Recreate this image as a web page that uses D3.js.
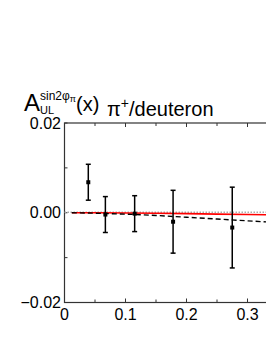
<!DOCTYPE html>
<html>
<head>
<meta charset="utf-8">
<script src="https://cdn.jsdelivr.net/npm/d3@7"></script>
<style>
body { margin: 0; background: #fff; }
text { font-family: "Liberation Sans", Arial, sans-serif; }
</style>
</head>
<body>
<svg width="266" height="344"></svg>
<script>
// data points (x, asymmetry, error)
const xs = [0.039, 0.067, 0.115, 0.178, 0.275]
const ys = [0.0068, -0.0004, -0.0002, -0.002, -0.0033]
const errs = [0.004, 0.004, 0.004, 0.007, 0.009]

// model curves
const curveX = [0.012, 0.05, 0.1, 0.15, 0.2, 0.25, 0.3, 0.35]
const redY = [0, 0, -0.00005, -0.0001, -0.0002, -0.0003, -0.0004, -0.0005]
const dashY = [0, -0.0001, -0.0003, -0.0006, -0.001, -0.0014, -0.0018, -0.0022]

const xTicks = [0, 0.1, 0.2, 0.3]
const yTicks = [-0.02, 0, 0.02]

const svg = d3.select('svg')

const x = d3.scaleLinear()
    .domain([0, 0.35])
    .range([64.5, 278])
const y = d3.scaleLinear()
    .domain([-0.02, 0.02])
    .range([302.5, 123])

// inner ticks
const xMinor = d3.range(0, 0.36, 0.05)
const yMinor = d3.range(-0.02, 0.021, 0.01)
const g = svg.append('g')
    .attr('stroke', '#333')
    .attr('stroke-width', 1)
xMinor.forEach((v, i) => {
    const len = i % 2 === 0 ? 4 : 3
    g.append('line').attr('x1', x(v)).attr('x2', x(v)).attr('y1', y(-0.02)).attr('y2', y(-0.02) - len)
    g.append('line').attr('x1', x(v)).attr('x2', x(v)).attr('y1', y(0.02)).attr('y2', y(0.02) + len)
})
yMinor.forEach(v => {
    g.append('line').attr('x1', x(0)).attr('x2', x(0) + 3).attr('y1', y(v)).attr('y2', y(v))
})

// frame
svg.append('rect')
    .attr('x', x(0))
    .attr('y', y(0.02))
    .attr('width', x(0.35) - x(0))
    .attr('height', y(-0.02) - y(0.02))
    .attr('fill', 'none')
    .attr('stroke', '#333')
    .attr('stroke-width', 1.2)

// zero dotted line
svg.append('line')
    .attr('x1', x(0))
    .attr('x2', x(0.35))
    .attr('y1', y(0) - 0.5)
    .attr('y2', y(0) - 0.5)
    .attr('stroke', '#aaa')
    .attr('stroke-width', 1.5)
    .attr('stroke-dasharray', '1.5,1.5')

const line = d3.line().x(d => x(d[0])).y(d => y(d[1]))

svg.append('path')
    .datum(d3.zip(curveX, redY))
    .attr('d', line)
    .attr('fill', 'none')
    .attr('stroke', '#ff0000')
    .attr('stroke-width', 1.6)

svg.append('path')
    .datum(d3.zip(curveX, dashY))
    .attr('d', line)
    .attr('fill', 'none')
    .attr('stroke', '#000')
    .attr('stroke-width', 1.4)
    .attr('stroke-dasharray', '5,3')

// error bars
const pts = svg.selectAll('g.pt')
    .data(d3.zip(xs, ys, errs))
    .join('g')
    .attr('stroke', '#000')
    .attr('stroke-width', 1.5)
pts.append('line')
    .attr('x1', d => x(d[0])).attr('x2', d => x(d[0]))
    .attr('y1', d => y(d[1] - d[2])).attr('y2', d => y(d[1] + d[2]))
pts.append('line')
    .attr('x1', d => x(d[0]) - 2.5).attr('x2', d => x(d[0]) + 2.5)
    .attr('y1', d => y(d[1] + d[2])).attr('y2', d => y(d[1] + d[2]))
pts.append('line')
    .attr('x1', d => x(d[0]) - 2.5).attr('x2', d => x(d[0]) + 2.5)
    .attr('y1', d => y(d[1] - d[2])).attr('y2', d => y(d[1] - d[2]))
pts.append('rect')
    .attr('x', d => x(d[0]) - 2).attr('y', d => y(d[1]) - 2)
    .attr('width', 4).attr('height', 4)
    .attr('fill', '#000').attr('stroke', 'none')

// tick labels
svg.selectAll('text.xl')
    .data(xTicks)
    .join('text')
    .attr('x', d => x(d))
    .attr('y', 320)
    .attr('text-anchor', 'middle')
    .attr('font-size', 16)
    .text(d => d === 0 ? '0' : d3.format('.1f')(d))

svg.selectAll('text.yl')
    .data(yTicks)
    .join('text')
    .attr('x', 61)
    .attr('y', d => y(d) + 5.5)
    .attr('text-anchor', 'end')
    .attr('font-size', 16)
    .text(d => d3.format('.2f')(d))

// title
const t = svg.append('text').attr('x', 24).attr('y', 111)
t.append('tspan').attr('font-size', 24).text('A')
t.append('tspan').attr('font-size', 12).attr('dy', -11).text('sin2φ')
t.append('tspan').attr('font-size', 9).attr('dy', 2).text('π')
t.append('tspan').attr('font-size', 20).attr('dy', 9).attr('x', 76).text('(x)')
svg.append('text').attr('x', 40).attr('y', 114).attr('font-size', 11).text('UL')

const t2 = svg.append('text').attr('x', 107).attr('y', 115.5).attr('font-size', 20)
t2.append('tspan').text('π')
t2.append('tspan').attr('font-size', 14).attr('dy', -8).text('+')
t2.append('tspan').attr('dy', 8).text('/deuteron')
</script>
</body>
</html>
